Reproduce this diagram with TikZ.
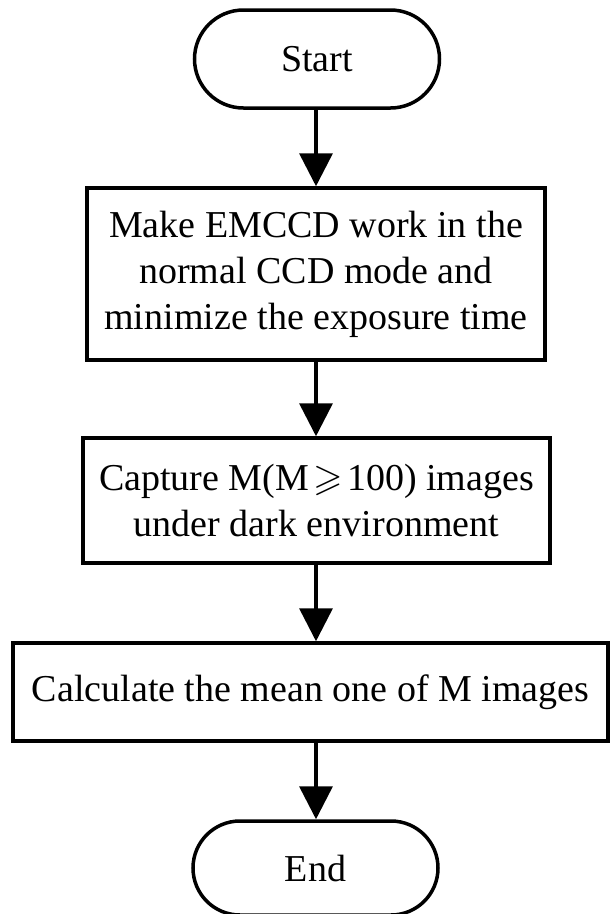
\documentclass[tikz,border=0pt]{standalone}
\usepackage{fontspec}
\usepackage{amssymb}
\setmainfont{Liberation Serif}
\usetikzlibrary{arrows.meta}
\begin{document}
\begin{tikzpicture}[x=1pt,y=-1pt,
  base/.style={draw=black, line width=3.5pt, align=center, inner sep=0pt,
    font=\fontsize{38}{46}\selectfont},
  term/.style={base, minimum width=245pt, minimum height=98pt, rounded corners=49pt},
  proc/.style={base, rectangle},
  flow/.style={line width=3.5pt, -{Triangle[width=33pt,length=33pt]}}]
\clip (0,0) rectangle (610,914);
\useasboundingbox (0,0) rectangle (610,914);
\node[term] (start) at (317,59) {Start};
\node[proc, minimum width=458pt, minimum height=172pt] (b1) at (316,274)
  {Make EMCCD work in the\\normal CCD mode and\\minimize the exposure time};
\node[proc, minimum width=467pt, minimum height=125pt] (b2) at (316.5,500.5)
  {Capture M(M$\,\geqslant\,$100) images\\under dark environment};
\node[proc, minimum width=595pt, minimum height=98pt] (b3) at (310.5,692)
  {Calculate the mean one of M images};
\node[term, minimum width=245pt, minimum height=94pt, rounded corners=47pt] (end) at (315.5,868) {End};
\draw[flow] (start.south -| 316,0) -- (b1.north -| 316,0);
\draw[flow] (b1.south -| 316,0) -- (b2.north -| 316,0);
\draw[flow] (b2.south -| 316,0) -- (b3.north -| 316,0);
\draw[flow] (b3.south -| 316,0) -- (end.north -| 316,0);
\end{tikzpicture}
\end{document}
